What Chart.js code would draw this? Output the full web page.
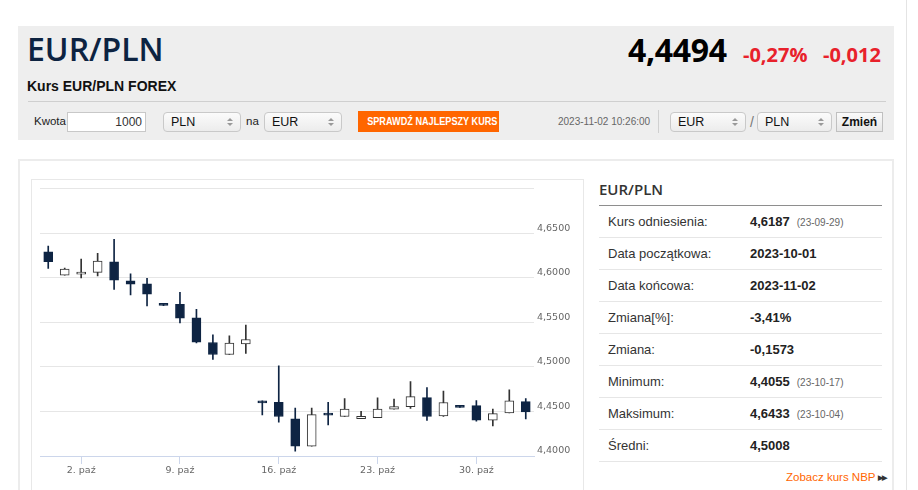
<!DOCTYPE html>
<html lang="pl">
<head>
    <meta charset="UTF-8">
    <title>Kurs EUR/PLN FOREX</title>
    <script src="https://cdn.jsdelivr.net/npm/chart.js@4.4.0/dist/chart.umd.min.js"></script>
    <style>
        body {
            margin: 0;
            width: 918px;
            height: 490px;
            overflow: hidden;
            background: #ffffff;
            font-family: 'Liberation Sans', Arial, sans-serif;
            color: #333;
            position: relative;
        }

        .abs { position: absolute; }

        .edge-line {
            left: 906px; top: 0; width: 1px; height: 490px;
            background: #e4e4e4;
        }

        /* header box */
        .head {
            left: 18px; top: 26px; width: 876px; height: 114px;
            background: #eeeeee;
        }
        .title {
            left: 27px; top: 27px;
            font-family: 'Open Sans', sans-serif;
            font-weight: 600;
            font-size: 32px;
            color: #0d2341;
        }
        .subtitle {
            left: 27px; top: 78px;
            font-size: 14px;
            font-weight: bold;
            color: #111;
        }
        .sep {
            left: 28px; top: 101px; width: 858px; height: 1px;
            background: #cfcfcf;
        }
        .price {
            left: 628px; top: 28px;
            font-family: 'Open Sans', sans-serif;
            font-weight: 700;
            font-size: 32px;
            color: #000;
            letter-spacing: -0.3px;
        }
        .chg {
            top: 41px;
            font-family: 'Open Sans', sans-serif;
            font-weight: 700;
            font-size: 20px;
            color: #e8212b;
        }
        .lbl { font-size: 11.5px; color: #222; }
        .input {
            left: 67px; top: 112px; width: 77px; height: 18px;
            background: #fff;
            border: 1px solid #c8c8c8;
            font-size: 12px;
            text-align: right;
            line-height: 18px;
            box-sizing: content-box;
        }
        .input span { padding-right: 3px; }
        .sel {
            top: 112px; height: 18px;
            border: 1px solid #c9c9c9;
            border-radius: 4px;
            background: linear-gradient(#fbfbfb, #ececec);
            font-size: 12.5px;
            line-height: 18px;
            padding-left: 7px;
            box-sizing: content-box;
            color: #111;
        }
        .sel i {
            position: absolute; right: 7px; width: 0; height: 0;
            border-left: 3px solid transparent;
            border-right: 3px solid transparent;
        }
        .sel i.up { top: 5px; border-bottom: 3px solid #999; }
        .sel i.dn { top: 10px; border-top: 3px solid #999; }
        .btn-orange {
            left: 358px; top: 111px; width: 141px; height: 21px;
            background: #ff6600;
        }
        .btn-orange span {
            position: absolute; left: 0; right: 0; top: 0;
            color: #fff;
            font-size: 10.5px;
            font-weight: bold;
            text-align: center;
            line-height: 21px;
            white-space: nowrap;
            transform: scaleX(0.87);
        }
        .stamp {
            left: 558px; top: 116px;
            font-size: 10px;
            color: #666;
        }
        .vsep {
            left: 658px; top: 110px; width: 1px; height: 23px;
            background: #d0d0d0;
        }
        .btn-grey {
            left: 836px; top: 112px; width: 45px; height: 18px;
            border: 1px solid #c0c0c0;
            background: linear-gradient(#fafafa, #e6e6e6);
            font-size: 12px;
            font-weight: bold;
            text-align: center;
            line-height: 18px;
            color: #111;
        }

        /* content panel */
        .panel {
            left: 18px; top: 159px; width: 872px; height: 340px;
            border: 2px solid #ececec;
        }
        .chart-box {
            left: 31px; top: 179px; width: 551px; height: 320px;
            border: 1px solid #e8e8e8;
        }
        .chart-wrap {
            left: 32px; top: 180px; width: 550px; height: 310px;
        }

        /* stats table */
        .stats-title {
            left: 599px; top: 179px;
            font-family: 'Open Sans', sans-serif;
            font-weight: 600;
            font-size: 15px;
            color: #333;
        }
        .stats-line {
            left: 599px; top: 205px; width: 283px; height: 1px;
            background: #8e8e8e;
        }
        .stats {
            left: 599px; top: 206px; width: 283px;
            margin: 0; padding: 0;
            list-style: none;
        }
        .stats li {
            height: 31px;
            border-bottom: 1px solid #e6e6e6;
            position: relative;
            font-size: 13px;
            line-height: 31px;
        }
        .stats li .k { position: absolute; left: 9px; color: #333; }
        .stats li .v { position: absolute; left: 151px; font-weight: bold; color: #222; }
        .stats li .d { font-weight: normal; font-size: 10px; color: #666; margin-left: 7px; }
        .nbp {
            left: 786px; top: 471px;
            font-size: 11.5px;
            color: #ff6600;
        }
        .nbp b { color: #333; font-size: 7px; letter-spacing: -1px; vertical-align: 1px; }
    </style>
</head>
<body>
    <div class="abs edge-line"></div>

    <div class="abs head"></div>
    <div class="abs title">EUR/PLN</div>
    <div class="abs subtitle">Kurs EUR/PLN FOREX</div>
    <div class="abs price">4,4494</div>
    <div class="abs chg" style="left:743px">-0,27%</div>
    <div class="abs chg" style="left:823px">-0,012</div>
    <div class="abs sep"></div>

    <div class="abs lbl" style="left:34px; top:115px">Kwota</div>
    <div class="abs input"><span>1000</span></div>
    <div class="abs sel" style="left:163px; width:69px">PLN<i class="up"></i><i class="dn"></i></div>
    <div class="abs lbl" style="left:246px; top:115px">na</div>
    <div class="abs sel" style="left:264px; width:69px">EUR<i class="up"></i><i class="dn"></i></div>
    <div class="abs btn-orange"><span>SPRAWDŹ NAJLEPSZY KURS</span></div>
    <div class="abs stamp">2023-11-02 10:26:00</div>
    <div class="abs vsep"></div>
    <div class="abs sel" style="left:670px; width:67px">EUR<i class="up"></i><i class="dn"></i></div>
    <div class="abs lbl" style="left:750px; top:114px; color:#777; font-size:14px">/</div>
    <div class="abs sel" style="left:757px; width:66px">PLN<i class="up"></i><i class="dn"></i></div>
    <div class="abs btn-grey">Zmień</div>

    <div class="abs panel"></div>
    <div class="abs chart-box"></div>
    <div class="abs chart-wrap"><canvas id="fxChart" width="550" height="310"></canvas></div>

    <div class="abs stats-title">EUR/PLN</div>
    <div class="abs stats-line"></div>
    <ul class="abs stats">
        <li><span class="k">Kurs odniesienia:</span><span class="v">4,6187<span class="d">(23-09-29)</span></span></li>
        <li><span class="k">Data początkowa:</span><span class="v">2023-10-01</span></li>
        <li><span class="k">Data końcowa:</span><span class="v">2023-11-02</span></li>
        <li><span class="k">Zmiana[%]:</span><span class="v">-3,41%</span></li>
        <li><span class="k">Zmiana:</span><span class="v">-0,1573</span></li>
        <li><span class="k">Minimum:</span><span class="v">4,4055<span class="d">(23-10-17)</span></span></li>
        <li><span class="k">Maksimum:</span><span class="v">4,6433<span class="d">(23-10-04)</span></span></li>
        <li><span class="k">Średni:</span><span class="v">4,5008</span></li>
    </ul>
    <div class="abs nbp">Zobacz kurs NBP <b>▶▶</b></div>

    <script>
        // daily quotes (Sun-Fri sessions)
        const dates = [
            '2023-09-29', '2023-10-01', '2023-10-02', '2023-10-03', '2023-10-04', '2023-10-05',
            '2023-10-06', '2023-10-08', '2023-10-09', '2023-10-10', '2023-10-11', '2023-10-12',
            '2023-10-13', '2023-10-15', '2023-10-16', '2023-10-17', '2023-10-18', '2023-10-19',
            '2023-10-20', '2023-10-22', '2023-10-23', '2023-10-24', '2023-10-25', '2023-10-26',
            '2023-10-27', '2023-10-29', '2023-10-30', '2023-10-31', '2023-11-01', '2023-11-02'
        ];
        const open = [
            4.6292, 4.6029, 4.6041, 4.6061, 4.6180, 4.5966, 4.5933, 4.5708, 4.5701, 4.5551,
            4.5274, 4.5139, 4.5258, 4.4618, 4.4603, 4.4416, 4.4109, 4.4466, 4.4443, 4.4420,
            4.4431, 4.4525, 4.4555, 4.4656, 4.4449, 4.4562, 4.4566, 4.4401, 4.4483, 4.4611
        ];
        const high = [
            4.6357, 4.6109, 4.6210, 4.6274, 4.6433, 4.6045, 4.5993, 4.5710, 4.5836, 4.5645,
            4.5360, 4.5348, 4.5469, 4.4620, 4.5011, 4.4539, 4.4539, 4.4603, 4.4645, 4.4502,
            4.4652, 4.4640, 4.4836, 4.4768, 4.4730, 4.4562, 4.4622, 4.4528, 4.4742, 4.4645
        ];
        const low = [
            4.6106, 4.6029, 4.6000, 4.6022, 4.5870, 4.5809, 4.5685, 4.5688, 4.5494, 4.5270,
            4.5083, 4.5139, 4.5151, 4.4461, 4.4379, 4.4055, 4.4109, 4.4348, 4.4443, 4.4420,
            4.4431, 4.4525, 4.4533, 4.4398, 4.4443, 4.4545, 4.4390, 4.4337, 4.4483, 4.4416
        ];
        const close = [
            4.6180, 4.6097, 4.6063, 4.6188, 4.5974, 4.5929, 4.5817, 4.5690, 4.5547, 4.5278,
            4.5139, 4.5266, 4.5308, 4.4596, 4.4443, 4.4109, 4.4465, 4.4458, 4.4528, 4.4446,
            4.4528, 4.4555, 4.4667, 4.4443, 4.4600, 4.4545, 4.4401, 4.4476, 4.4618, 4.4494
        ];

        // x axis labels (Mondays)
        const tickDates = ['2023-10-02', '2023-10-09', '2023-10-16', '2023-10-23', '2023-10-30'];
        const tickLabels = ['2. paź', '9. paź', '16. paź', '23. paź', '30. paź'];

        const downColor = '#0e2443';
        const upLine = '#333333';

        const isDown = dates.map((d, i) => close[i] < open[i]);

        Chart.defaults.font.family = "'DejaVu Sans', sans-serif";
        Chart.defaults.font.size = 9.5;
        Chart.defaults.color = '#666666';

        const ctx = document.getElementById('fxChart').getContext('2d');
        const fxChart = new Chart(ctx, {
            type: 'bar',
            data: {
                labels: dates,
                datasets: [
                    {
                        label: 'body',
                        data: dates.map((d, i) => [open[i], close[i]]),
                        backgroundColor: isDown.map(dn => dn ? downColor : '#ffffff'),
                        borderColor: isDown.map(dn => dn ? downColor : upLine),
                        borderWidth: 1,
                        borderSkipped: false,
                        barThickness: 9,
                        minBarLength: 2,
                        grouped: false,
                        order: 0
                    },
                    {
                        label: 'wick',
                        data: dates.map((d, i) => [low[i], high[i]]),
                        backgroundColor: isDown.map(dn => dn ? downColor : upLine),
                        borderWidth: 0,
                        barThickness: 1,
                        grouped: false,
                        order: 1
                    }
                ]
            },
            options: {
                responsive: false,
                animation: false,
                layout: {
                    padding: { left: 8, top: 8, right: 4, bottom: 0 }
                },
                plugins: {
                    legend: { display: false },
                    tooltip: { enabled: false }
                },
                scales: {
                    x: {
                        type: 'category',
                        offset: true,
                        grid: {
                            offset: false,
                            drawOnChartArea: false,
                            drawTicks: true,
                            tickLength: 8,
                            color: c => tickDates.includes(dates[c.index]) ? '#ccd6eb' : 'rgba(0,0,0,0)'
                        },
                        border: { color: '#ccd6eb' },
                        ticks: {
                            autoSkip: false,
                            maxRotation: 0,
                            padding: 1,
                            callback: (v, i) => {
                                const k = tickDates.indexOf(dates[i]);
                                return k >= 0 ? tickLabels[k] : '';
                            }
                        },
                        afterFit: s => { s.height = 34; }
                    },
                    y: {
                        position: 'right',
                        min: 4.40,
                        max: 4.70,
                        grid: {
                            color: '#e6e6e6',
                            drawTicks: false
                        },
                        border: { display: false },
                        ticks: {
                            stepSize: 0.05,
                            padding: 3,
                            labelOffset: -5,
                            callback: v => v > 4.699 ? '' : v.toFixed(4).replace('.', ',')
                        },
                        afterFit: s => { s.width = 44; }
                    }
                }
            }
        });
    </script>
</body>
</html>
